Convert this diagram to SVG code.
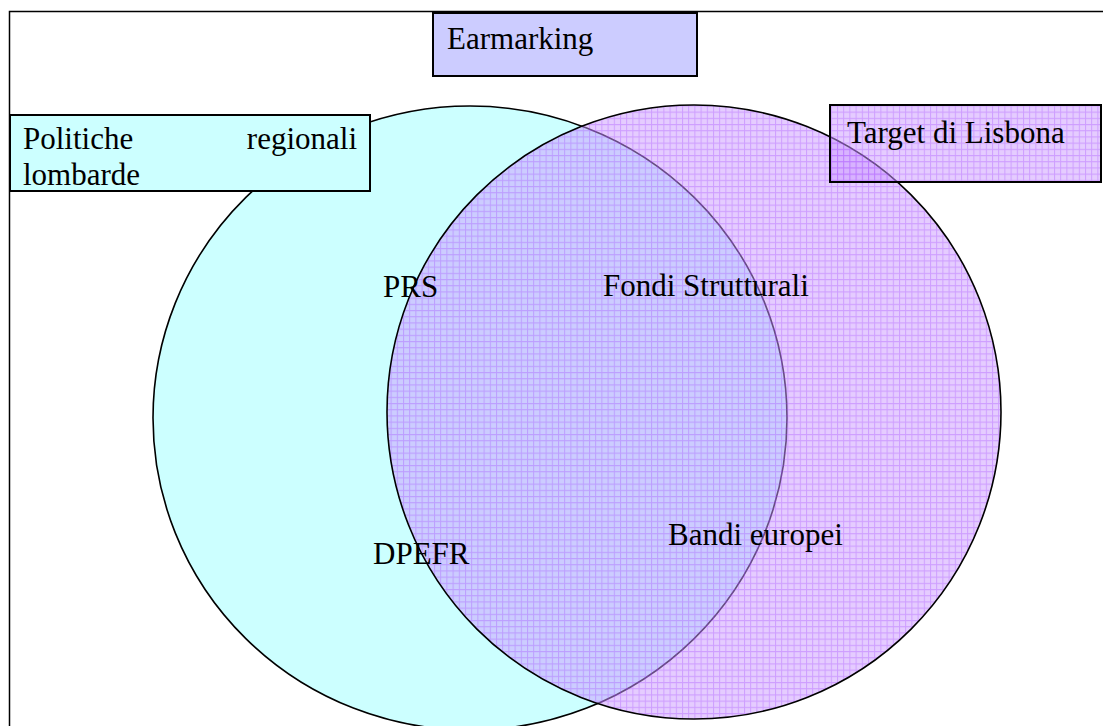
<svg xmlns="http://www.w3.org/2000/svg" width="1103" height="726" viewBox="0 0 1103 726">
<style>
.box{stroke:#000;stroke-width:2}
.circ{stroke:#000;stroke-width:1.6}
text{font-family:"Liberation Serif","Times New Roman",serif;font-size:31px;fill:#000}
</style>
<defs>
<pattern id="grid" width="6.2" height="6.2" patternUnits="userSpaceOnUse">
<rect width="6.2" height="6.2" fill="#CC99FF" fill-opacity="0.5"/>
<path d="M0 0.5H6.2M0.5 0V6.2" stroke="#9933FF" stroke-opacity="0.3" stroke-width="1"/>
</pattern>
</defs>
<rect width="1103" height="726" fill="#fff"/>
<g id="frame"><rect x="9.5" y="11.5" width="1100" height="730" fill="none" stroke="#000" stroke-width="1.5"/></g>
<g id="earmarking"><rect class="box" x="433" y="13" width="264" height="63" fill="#CCCCFF"/><text x="447" y="49">Earmarking</text></g>
<g id="politiche-circle"><ellipse class="circ" cx="470" cy="418" rx="317" ry="312" fill="#CCFFFF"/></g>
<g id="politiche"><rect class="box" x="10" y="115" width="360" height="76" fill="#CCFFFF"/><text x="23" y="149">Politiche</text><text x="357" y="149" text-anchor="end">regionali</text><text x="23" y="185">lombarde</text></g>
<g id="lisbona-circle"><circle class="circ" cx="694" cy="412" r="307" fill="url(#grid)"/></g>
<g id="target"><rect class="box" x="830" y="105" width="271" height="77" fill="url(#grid)"/><text x="847" y="143">Target di Lisbona</text></g>
<g id="prs"><text x="383" y="297">PRS</text></g>
<g id="fondi"><text x="603" y="296">Fondi Strutturali</text></g>
<g id="bandi"><text x="668" y="545">Bandi europei</text></g>
<g id="dpefr"><text x="373" y="564">DPEFR</text></g>
<g id="connectors"></g>
</svg>
